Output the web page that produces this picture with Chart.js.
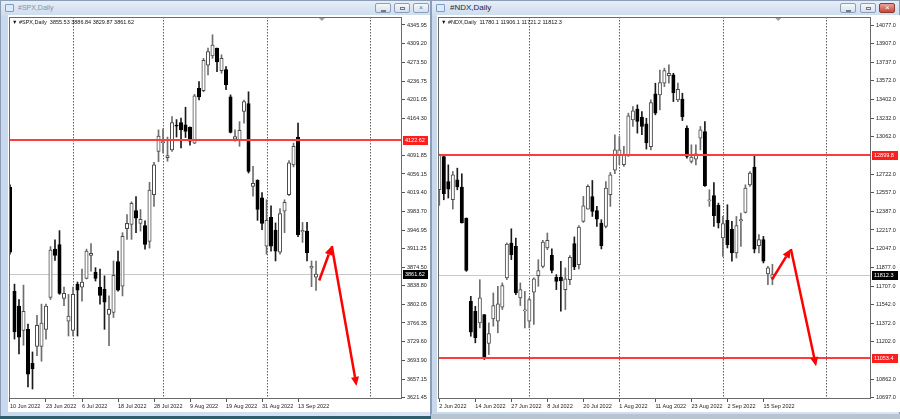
<!DOCTYPE html>
<html><head><meta charset="utf-8">
<script src="https://cdn.jsdelivr.net/npm/chart.js@4.4.1/dist/chart.umd.min.js"></script>
<style>
*{box-sizing:border-box}
html,body{margin:0;padding:0}
body{width:900px;height:419px;overflow:hidden;position:relative;background:#c2d3e8;font-family:"Liberation Sans",Arial,sans-serif}
.win{position:absolute;top:0;height:417px;background:linear-gradient(90deg,#c9d9ed,#d8e4f3);border:1px solid #8c9db5}
.tbar{position:absolute;left:0;right:0;top:0;height:15px;background:linear-gradient(#e6eef8,#cddcee)}
.ttl{position:absolute;left:17px;top:3px;font-size:7px;color:#8593a8;white-space:nowrap}
.ico{position:absolute;left:4px;top:3px;width:9px;height:8px;border:1px solid #7b9cc8;border-radius:1px;background:#dce9f8}
.btn{position:absolute;top:2px;width:16px;height:10px;border:1px solid #8d9db3;border-radius:2px;background:linear-gradient(#f6f8fb,#d6e0ec)}
.btn i{position:absolute;left:5px;top:3px;width:5px;height:3px;border:1px solid #6c7a8e}
.cv{position:absolute;top:15px;background:#fff}
#bl{position:absolute;left:0;top:416px;width:431px;height:3px;background:#2f5f6e}
#br{position:absolute;left:431px;top:414px;width:469px;height:5px;background:#b9c4d1}
</style></head><body>
<div class="win" style="left:0;width:431px">
  <div class="tbar"><span class="ico"></span><span class="ttl">#SPX,Daily</span>
    <span class="btn" style="left:374px"><i style="height:1px;top:6px"></i></span>
    <span class="btn" style="left:393px"><i></i></span>
    <span class="btn" style="left:412px"><i style="border:none;font-style:normal;font-size:7px;top:0;left:5px;color:#6c7a8e">×</i></span>
  </div>
</div>
<div class="win" style="left:431px;width:469px">
  <div class="tbar"><span class="ico"></span><span class="ttl" style="font-size:8px;color:#1d2a3a;left:18px;top:2px">#NDX,Daily</span>
    <span class="btn" style="left:408px"><i style="height:1px;top:6px"></i></span>
    <span class="btn" style="left:428px"><i></i></span>
    <span class="btn" style="left:447px;background:linear-gradient(#e8a29a,#c8473c);border-color:#8e3a33"><i style="border:none;font-style:normal;font-size:8px;top:-1px;left:5px;color:#fff">×</i></span>
  </div>
</div>
<canvas id="c1" class="cv" width="422" height="397" style="left:8px"></canvas>
<canvas id="c2" class="cv" width="463" height="397" style="left:437px"></canvas>
<div id="bl"></div><div id="br"></div>
<script>
// ---------- #SPX Daily ----------
const spxTickLabels = ['10 Jun 2022','23 Jun 2022','6 Jul 2022','18 Jul 2022','28 Jul 2022','9 Aug 2022','19 Aug 2022','31 Aug 2022','13 Sep 2022'];
const spxOpen  = [4030,3828,3799,3752,3754,3688,3721,3721,3754,3816,3910,3919,3814,3770,3752,3842,3836,3853,3898,3865,3836,3832,3783,3787,3886,3838,3950,3958,3985,3960,3956,3925,4016,4100,4117,4088,4103,4150,4156,4152,4147,4116,4223,4218,4268,4286,4301,4257,4259,4206,4124,4123,4178,4193,4032,4044,4010,3916,3972,3947,3904,3984,4016,4074,4128,3944,3945,3873,3855.53];
const spxHigh  = [4035,3842,3812,3840,3764,3710,3781,3803,3803,3915,3928,3946,3836,3822,3836,3846,3871,3910,3921,3874,3871,3858,3819,3887,3906,3942,3977,4002,4012,3987,3965,4040,4079,4142,4144,4128,4168,4162,4165,4186,4148,4211,4236,4281,4301,4327,4301,4288,4265,4210,4142,4158,4200,4216,4071,4045,4020,4006,3994,3961,3989,4006,4082,4116,4155,3962,3962,3887,3886.84];
const spxLow   = [3900,3735,3706,3723,3642,3638,3703,3692,3735,3812,3888,3822,3800,3741,3741,3741,3809,3852,3867,3848,3803,3754,3722,3777,3828,3819,3929,3929,3942,3945,3910,3912,3993,4080,4097,4081,4100,4128,4107,4127,4112,4115,4200,4216,4249,4281,4255,4252,4220,4136,4120,4110,4155,4058,4013,3966,3948,3900,3906,3887,3900,3942,4014,4070,3934,3923,3887,3837,3829.87];
const spxClose = [3904,3749,3739,3789,3667,3677,3762,3766,3799,3908,3898,3824,3824,3780,3822,3830,3846,3906,3902,3853,3820,3807,3793,3859,3830,3935,3960,3999,3970,3968,3919,4025,4074,4130,4118,4092,4156,4149,4142,4139,4120,4208,4206,4277,4294,4307,4274,4281,4230,4137,4129,4141,4197,4061,4038,3987,3960,3966,3916,3906,3979,4001,4078,4110,3938,3946,3903,3877,3861.62];
const spxPriceTicks = [4345.95,4309.20,4273.50,4236.75,4201.05,4164.30,4091.85,4056.15,4019.40,3983.70,3946.95,3911.25,3874.50,3838.80,3802.05,3766.35,3729.60,3693.90,3657.15,3621.45];
const spxLevels = [4122.62];
const spxMonthStarts = [14,34,57,80];
const spxArrow = [[68.7,3849],[71.5,3916],[77.0,3644]];

// ---------- #NDX Daily ----------
const ndxTickLabels = ['2 Jun 2022','14 Jun 2022','27 Jun 2022','8 Jul 2022','20 Jul 2022','1 Aug 2022','11 Aug 2022','23 Aug 2022','2 Sep 2022','15 Sep 2022'];
const ndxOpen  = [12582,12884,12657,12491,12673,12607,12326,11570,11480,11374,11450,11187,11410,11389,11516,11782,12099,12069,11601,11482,11389,11652,11803,11887,12054,11987,11788,11790,11676,11767,12093,11903,12295,12407,12521,12394,12280,12249,12537,12760,12899,12809,12899,13216,13314,13241,13180,12974,13452,13443,13549,13618,13624,13398,13404,13141,12839,12860,13051,13111,12480,12530,12440,12144,12304,12226,12008,12300,12376,12627,12788,12075,12129,11818,11780.1];
const ndxHigh  = [12905,12899,12808,12748,12778,12727,12326,11615,11525,11766,11450,11374,11646,11706,11737,12099,12228,12144,11737,11661,11601,11782,11948,12123,12190,12047,11812,11933,11873,11984,12154,12256,12522,12627,12666,12431,12310,12657,12739,13080,13065,12975,13277,13337,13352,13292,13231,13398,13549,13669,13685,13715,13639,13549,13458,13162,12990,12990,13156,13201,12582,12648,12461,12340,12446,12295,12340,12371,12627,12748,12899,12175,12159,11888,11906.1];
const ndxLow   = [12440,12491,12507,12407,12582,12280,11842,11253,11193,11329,11042,11087,11344,11284,11495,11767,11948,11631,11531,11329,11329,11359,11706,11873,12038,11827,11676,11480,11495,11721,11857,11864,12286,12407,12340,12250,12045,12235,12431,12727,12808,12793,12884,13156,13096,13081,12951,12944,13262,13307,13518,13549,13382,13382,13210,12869,12824,12808,12944,12612,12431,12250,12235,11978,12054,11933,11963,12069,12371,12612,12009,12009,11918,11721,11721.2];
const ndxClose = [12899,12546,12588,12718,12607,12280,11851,11289,11239,11601,11057,11277,11531,11546,11712,12090,11993,11646,11676,11488,11585,11773,11848,12108,12123,11851,11751,11755,11773,11969,11881,12244,12437,12612,12385,12316,12075,12597,12718,12944,12944,12899,13253,13298,13201,13156,13008,13373,13277,13554,13663,13639,13464,13494,13246,12884,12878,12908,13126,12618,12488,12347,12280,12274,12084,12008,12256,12306,12597,12733,12044,12129,11935,11873,11812.3];
const ndxPriceTicks = [14077,13907,13737,13572,13402,13232,13062,12722,12557,12387,12217,12047,11877,11707,11542,11372,11202,10862,10697];
const ndxLevels = [12899.8,11053.4];
const ndxMonthStarts = [20,40,63,86];
const ndxArrow = [[73.9,11767],[78.1,12045],[83.7,10981]];

const FONT = '"Liberation Sans", Arial, sans-serif';

function arrowSeg(ctx, p, q) {
  const dx = q[0]-p[0], dy = q[1]-p[1], L = Math.hypot(dx, dy), ux = dx/L, uy = dy/L;
  const hl = 9, hw = 4;
  const bx = q[0]-ux*hl, by = q[1]-uy*hl;
  ctx.beginPath(); ctx.moveTo(p[0], p[1]); ctx.lineTo(bx, by); ctx.stroke();
  ctx.beginPath(); ctx.moveTo(q[0], q[1]);
  ctx.lineTo(bx - uy*hw, by + ux*hw); ctx.lineTo(bx + uy*hw, by - ux*hw);
  ctx.closePath(); ctx.fill();
}

const mt4 = {
  id: 'mt4',
  beforeDatasetsDraw(chart, _a, o) {
    const {ctx, chartArea: a, scales: {x, y}} = chart;
    ctx.save();
    ctx.beginPath(); ctx.rect(a.left, a.top, a.right - a.left, a.bottom - a.top); ctx.clip();
    ctx.strokeStyle = '#5e5e5e'; ctx.lineWidth = 1; ctx.setLineDash([1.5, 1.5]);
    o.months.forEach(i => {
      const px = Math.round(x.getPixelForValue(i)) + 0.5;
      ctx.beginPath(); ctx.moveTo(px, a.top); ctx.lineTo(px, a.bottom); ctx.stroke();
    });
    ctx.setLineDash([]);
    ctx.strokeStyle = '#c9c9c9';
    const py = Math.round(y.getPixelForValue(o.last)) + 0.5;
    ctx.beginPath(); ctx.moveTo(a.left, py); ctx.lineTo(a.right, py); ctx.stroke();
    ctx.restore();
  },
  afterDatasetsDraw(chart, _a, o) {
    const {ctx, chartArea: a, scales: {x, y}} = chart;
    ctx.save();
    ctx.beginPath(); ctx.rect(a.left, a.top, a.right - a.left, a.bottom - a.top); ctx.clip();
    ctx.strokeStyle = '#ff3b3b'; ctx.lineWidth = 2;
    o.levels.forEach(v => {
      const py = Math.round(y.getPixelForValue(v));
      ctx.beginPath(); ctx.moveTo(a.left, py); ctx.lineTo(a.right, py); ctx.stroke();
    });
    ctx.strokeStyle = '#ff0000'; ctx.fillStyle = '#ff0000'; ctx.lineWidth = 2.5;
    const pts = o.arrow.map(p => [x.getPixelForValue(p[0]), y.getPixelForValue(p[1])]);
    for (let k = 1; k < pts.length; k++) arrowSeg(ctx, pts[k-1], pts[k]);
    const sx = x.getPixelForValue(o.shift);
    ctx.fillStyle = '#a0a0a0';
    ctx.beginPath(); ctx.moveTo(sx - 3, a.top + 1); ctx.lineTo(sx + 3, a.top + 1); ctx.lineTo(sx, a.top + 4); ctx.closePath(); ctx.fill();
    ctx.restore();
    ctx.save();
    ctx.strokeStyle = '#6b6b6b'; ctx.lineWidth = 1;
    ctx.strokeRect(Math.round(a.left) + 0.5, Math.round(a.top) + 0.5, Math.round(a.right - a.left) - 1, Math.round(a.bottom - a.top) - 1);
    ctx.fillStyle = '#111'; ctx.font = '5.5px ' + FONT; ctx.textBaseline = 'middle';
    ctx.fillText(o.info, a.left + 3, a.top + 5.5);
    ctx.restore();
  },
  afterDraw(chart, _a, o) {
    const {ctx, chartArea: a, scales: {y}} = chart;
    ctx.save();
    ctx.font = '5.5px ' + FONT; ctx.textBaseline = 'middle';
    const boxes = o.levels.map(v => [v, '#ff1e1e']).concat([[o.last, '#000']]);
    boxes.forEach(([v, c]) => {
      const py = Math.round(y.getPixelForValue(v));
      ctx.fillStyle = c; ctx.fillRect(a.right + 1, py - 4, chart.width - a.right - 3, 9);
      ctx.fillStyle = '#fff'; ctx.fillText(v.toFixed(o.dec), a.right + 3, py + 0.5);
    });
    ctx.restore();
  }
};

function build(id, d) {
  const n = d.o.length;
  const bull = i => d.c[i] >= d.o[i];
  const last = d.c[n - 1];
  return new Chart(document.getElementById(id), {
    type: 'bar',
    data: {
      datasets: [
        {
          label: 'body', order: 0, grouped: false,
          data: d.o.map((v, i) => ({x: i, y: [v, d.c[i]]})),
          barThickness: 3.4, minBarLength: 1.2, borderWidth: 1, borderSkipped: false,
          backgroundColor: c => bull(c.dataIndex) ? '#ffffff' : '#000000',
          borderColor: c => bull(c.dataIndex) ? '#4a4a4a' : '#000000'
        },
        {
          label: 'wick', order: 1, grouped: false,
          data: d.l.map((v, i) => ({x: i, y: [v, d.h[i]]})),
          barThickness: 1, borderWidth: 0,
          backgroundColor: c => bull(c.dataIndex) ? '#6e6e6e' : '#1a1a1a'
        }
      ]
    },
    options: {
      responsive: false, animation: false, events: [],
      layout: {padding: {left: 1, top: 2, right: 0, bottom: 0}},
      plugins: {
        legend: {display: false}, tooltip: {enabled: false},
        mt4: {months: d.months, levels: d.levels, last: last, dec: d.dec, arrow: d.arrow,
              shift: n - 1 + 1.3,
              info: '\u25BC ' + d.name + '  ' + [d.o[n-1], d.h[n-1], d.l[n-1], d.c[n-1]].map(v => v.toFixed(d.dec)).join(' ')}
      },
      scales: {
        x: {
          type: 'linear', min: d.xmin, max: d.xmax, offset: false, bounds: 'data',
          afterBuildTicks: s => { s.ticks = d.tickLabels.map((t, k) => ({value: k * 8})); },
          afterFit: s => { s.height = 13; s.paddingLeft = 0; s.paddingRight = 0; },
          ticks: {autoSkip: false, maxRotation: 0, minRotation: 0, align: 'start', padding: 1,
                  color: '#222', font: {size: 5.5, family: FONT},
                  callback: (v, k) => d.tickLabels[k]},
          grid: {drawOnChartArea: false, drawTicks: true, tickLength: 3, color: '#555', offset: false},
          border: {display: false}
        },
        y: {
          type: 'linear', position: 'right', min: d.ymin, max: d.ymax, beginAtZero: false,
          afterBuildTicks: s => { s.ticks = d.yTicks.map(v => ({value: v})); },
          afterFit: s => { s.width = d.axisW; s.paddingTop = 0; s.paddingBottom = 0; },
          ticks: {autoSkip: false, padding: 2, color: '#222', font: {size: 5.5, family: FONT},
                  callback: v => v.toFixed(d.dec)},
          grid: {drawOnChartArea: false, drawTicks: true, tickLength: 3, color: '#555'},
          border: {display: false}
        }
      }
    },
    plugins: [mt4]
  });
}

build('c1', {
  name: '#SPX,Daily', o: spxOpen, h: spxHigh, l: spxLow, c: spxClose,
  tickLabels: spxTickLabels, yTicks: spxPriceTicks, levels: spxLevels, months: spxMonthStarts, arrow: spxArrow,
  dec: 2, xmin: -0.22, xmax: 87.1, ymin: 3618.5, ymax: 4361.5, axisW: 28
});
build('c2', {
  name: '#NDX,Daily', o: ndxOpen, h: ndxHigh, l: ndxLow, c: ndxClose,
  tickLabels: ndxTickLabels, yTicks: ndxPriceTicks, levels: ndxLevels, months: ndxMonthStarts, arrow: ndxArrow,
  dec: 1, xmin: -0.29, xmax: 95.9, ymin: 10683.4, ymax: 14149.6, axisW: 29
});
</script>
</body></html>
